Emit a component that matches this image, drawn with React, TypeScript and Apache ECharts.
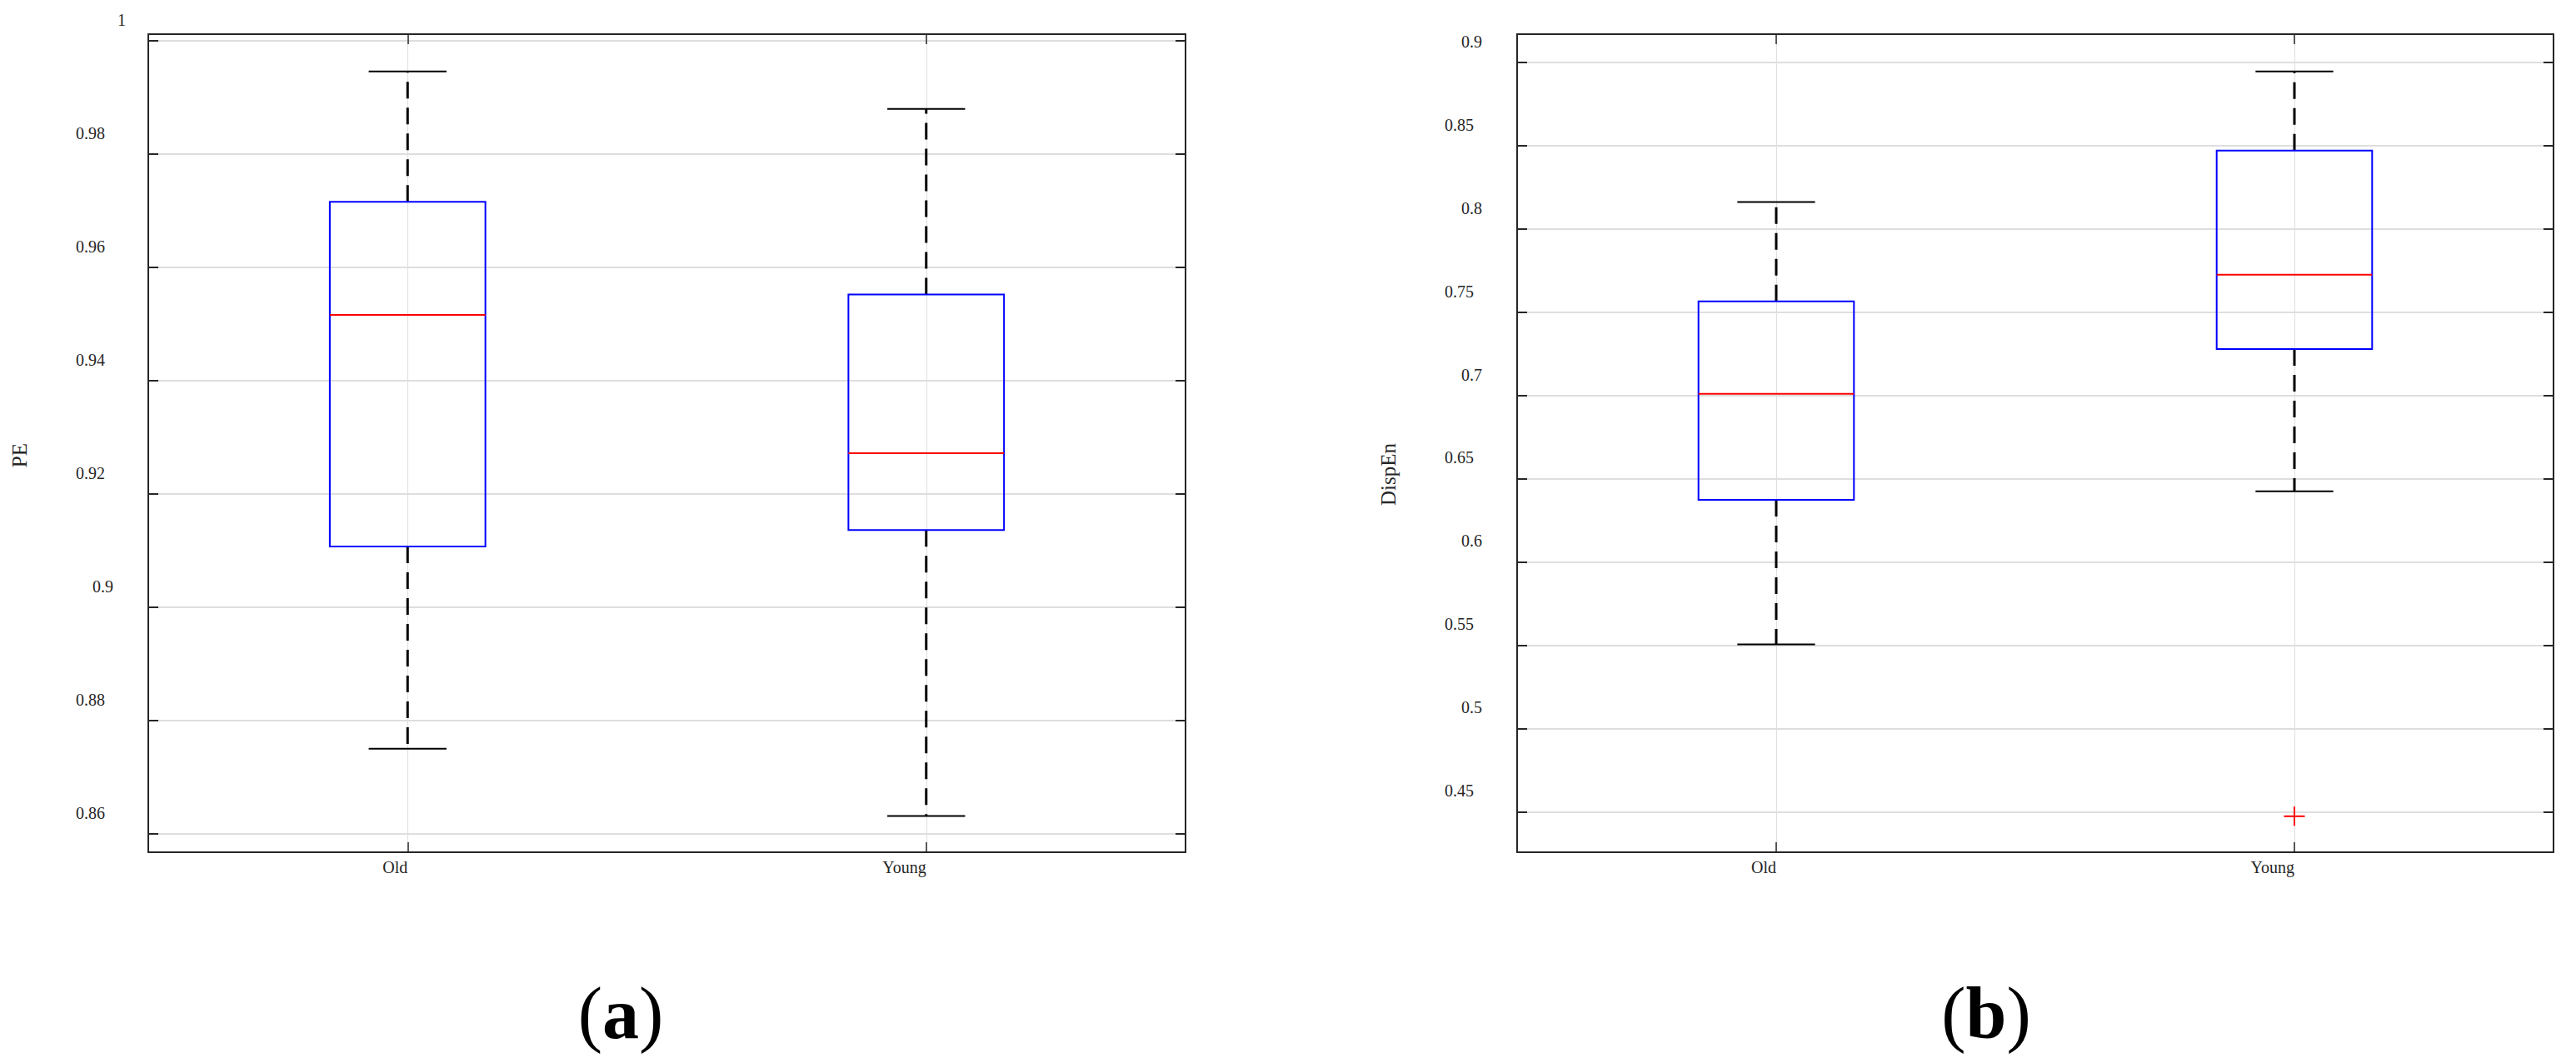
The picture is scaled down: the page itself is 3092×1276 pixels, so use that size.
import React, { useEffect, useRef } from 'react';
import * as echarts from 'echarts';

// ---------- data ----------
const categories = ['Old', 'Young'];

// panel (a): PE
const peLow = [0.875, 0.8631];
const peQ1 = [0.9107, 0.9136];
const peMedian = [0.9516, 0.9272];
const peQ3 = [0.9716, 0.9552];
const peHigh = [0.9946, 0.988];

// panel (b): DispEn
const dispEnLow = [0.5505, 0.6424];
const dispEnQ1 = [0.6372, 0.7277];
const dispEnMedian = [0.7009, 0.7724];
const dispEnQ3 = [0.7564, 0.8469];
const dispEnHigh = [0.816, 0.8944];

// outliers of panel (b)
const dispEnOutlierCategory = [1];
const dispEnOutlierValue = [0.4473];

// axis extents
const peAxisMin = 0.8567;
const peAxisMax = 1.0012;
const dispEnAxisMin = 0.4257;
const dispEnAxisMax = 0.9168;

const yAxisNames = ['PE', 'DispEn'];
const panelLetters = ['a', 'b'];

// ---------- styles ----------
const FONT = 'Liberation Serif';
const INK = '#262626';
const GRID_C = '#dedede';

const labelRich = (() => {
  const widths: Record<string, number> = { w1: 10, w2: 18, w3: 25, w4: 35, w5: 45 };
  const r: Record<string, any> = {};
  Object.keys(widths).forEach((k) => {
    r[k] = { fontFamily: FONT, fontSize: 20, color: INK, padding: [0, widths[k], 0, 0] };
  });
  return r;
})();

function yLabel(v: number) {
  const s = String(parseFloat(v.toFixed(6)));
  return `{w${s.length}|${s}}`;
}

function renderBox(_params: any, api: any) {
  const idx = api.value(0);
  const low = api.coord([idx, api.value(1)]);
  const q1 = api.coord([idx, api.value(2)]);
  const med = api.coord([idx, api.value(3)]);
  const q3 = api.coord([idx, api.value(4)]);
  const high = api.coord([idx, api.value(5)]);
  const band = api.size([1, 0])[0];
  const half = band * 0.15;
  const cap = band * 0.075;
  const x = q1[0];
  const dash = { stroke: '#000', lineWidth: 3, lineDash: [20, 11], fill: null };
  const solid = { stroke: '#000', lineWidth: 2, fill: null };
  return {
    type: 'group',
    children: [
      { type: 'line', shape: { x1: x, y1: q3[1], x2: x, y2: high[1] }, style: dash },
      { type: 'line', shape: { x1: x, y1: q1[1], x2: x, y2: low[1] }, style: dash },
      { type: 'line', shape: { x1: x - cap, y1: high[1], x2: x + cap, y2: high[1] }, style: solid },
      { type: 'line', shape: { x1: x - cap, y1: low[1], x2: x + cap, y2: low[1] }, style: solid },
      {
        type: 'rect',
        shape: { x: x - half, y: q3[1], width: half * 2, height: q1[1] - q3[1] },
        style: { stroke: '#0000ff', lineWidth: 2, fill: 'none' },
      },
      { type: 'line', shape: { x1: x - half, y1: med[1], x2: x + half, y2: med[1] }, style: { stroke: '#ff0000', lineWidth: 2 } },
    ],
  };
}

function renderOutlier(_params: any, api: any) {
  const p = api.coord([api.value(0), api.value(1)]);
  const s = { stroke: '#ff0000', lineWidth: 2 };
  return {
    type: 'group',
    children: [
      { type: 'line', shape: { x1: p[0] - 12.5, y1: p[1], x2: p[0] + 12.5, y2: p[1] }, style: s },
      { type: 'line', shape: { x1: p[0], y1: p[1] - 11.5, x2: p[0], y2: p[1] + 11.5 }, style: s },
    ],
  };
}

function xAxes(gridIndex: number) {
  const line = { show: true, lineStyle: { color: INK, width: 2 } };
  const tick = { show: true, inside: true, length: 12, alignWithLabel: true, lineStyle: { color: INK, width: 1.5 } };
  return [
    {
      type: 'category', gridIndex, data: categories, position: 'bottom', boundaryGap: true,
      axisLine: line, axisTick: tick,
      axisLabel: { show: true, align: 'right', margin: 8, fontFamily: FONT, fontSize: 20, color: INK, interval: 0 },
      splitLine: { show: true, alignWithLabel: true, lineStyle: { color: GRID_C, width: 1 } },
    },
    {
      type: 'category', gridIndex, data: categories, position: 'top', boundaryGap: true,
      axisLine: line, axisTick: tick, axisLabel: { show: false }, splitLine: { show: false },
    },
  ];
}

function yAxes(gridIndex: number, min: number, max: number, splitNumber: number, name: string) {
  const line = { show: true, lineStyle: { color: INK, width: 2 } };
  const tick = { show: true, inside: true, length: 12, lineStyle: { color: INK, width: 2 } };
  return [
    {
      type: 'value', gridIndex, min, max, splitNumber, position: 'left',
      axisLine: line, axisTick: tick,
      axisLabel: {
        show: true, showMinLabel: false, showMaxLabel: false, margin: 17, align: 'right',
        verticalAlign: 'middle', padding: [0, 0, 50, 0],
        fontFamily: FONT, fontSize: 20, color: INK, formatter: yLabel, rich: labelRich,
      },
      splitLine: { show: true, lineStyle: { color: GRID_C, width: 2 } },
      name, nameLocation: 'middle', nameGap: 155,
      nameTextStyle: { fontFamily: FONT, fontSize: 25, color: INK, align: 'right', verticalAlign: 'middle' },
    },
    {
      type: 'value', gridIndex, min, max, splitNumber, position: 'right',
      axisLine: line, axisTick: tick, axisLabel: { show: false }, splitLine: { show: false },
    },
  ];
}

function panelLabel(letter: string, x: number) {
  return {
    type: 'text', x, y: 1216,
    style: {
      text: `{p|(}{b|${letter}}{p|)}`,
      align: 'center', verticalAlign: 'middle',
      rich: {
        p: { fontFamily: FONT, fontSize: 88, fontWeight: 'normal', color: '#000' },
        b: { fontFamily: FONT, fontSize: 88, fontWeight: 'bold', color: '#000' },
      },
    },
  };
}

export default function App() {
  const ref = useRef<HTMLDivElement>(null);
  useEffect(() => {
    if (!ref.current) return;
    const chart = echarts.init(ref.current, undefined, { renderer: 'svg' });
    const peData = categories.map((_, i) => [i, peLow[i], peQ1[i], peMedian[i], peQ3[i], peHigh[i]]);
    const dispEnData = categories.map((_, i) => [i, dispEnLow[i], dispEnQ1[i], dispEnMedian[i], dispEnQ3[i], dispEnHigh[i]]);
    const outlierData = dispEnOutlierCategory.map((c, i) => [c, dispEnOutlierValue[i]]);
    chart.setOption({
      animation: false,
      backgroundColor: '#ffffff',
      grid: [
        { left: 178, top: 41, width: 1245, height: 982, containLabel: false },
        { left: 1821, top: 41, width: 1244, height: 982, containLabel: false },
      ],
      xAxis: [...xAxes(0), ...xAxes(1)],
      yAxis: [
        ...yAxes(0, peAxisMin, peAxisMax, 7, yAxisNames[0]),
        ...yAxes(1, dispEnAxisMin, dispEnAxisMax, 10, yAxisNames[1]),
      ],
      series: [
        { type: 'custom', name: 'PE', xAxisIndex: 0, yAxisIndex: 0, renderItem: renderBox, data: peData, encode: { x: 0, y: [1, 2, 3, 4, 5] }, clip: false },
        { type: 'custom', name: 'DispEn', xAxisIndex: 2, yAxisIndex: 2, renderItem: renderBox, data: dispEnData, encode: { x: 0, y: [1, 2, 3, 4, 5] }, clip: false },
        { type: 'custom', name: 'DispEn outliers', xAxisIndex: 2, yAxisIndex: 2, renderItem: renderOutlier, data: outlierData, encode: { x: 0, y: 1 }, clip: false },
      ],
      graphic: [panelLabel(panelLetters[0], 745), panelLabel(panelLetters[1], 2384)],
    });
    return () => chart.dispose();
  }, []);
  return <div ref={ref} style={{ position: 'absolute', left: 0, top: 0, width: 3092, height: 1276 }} />;
}
